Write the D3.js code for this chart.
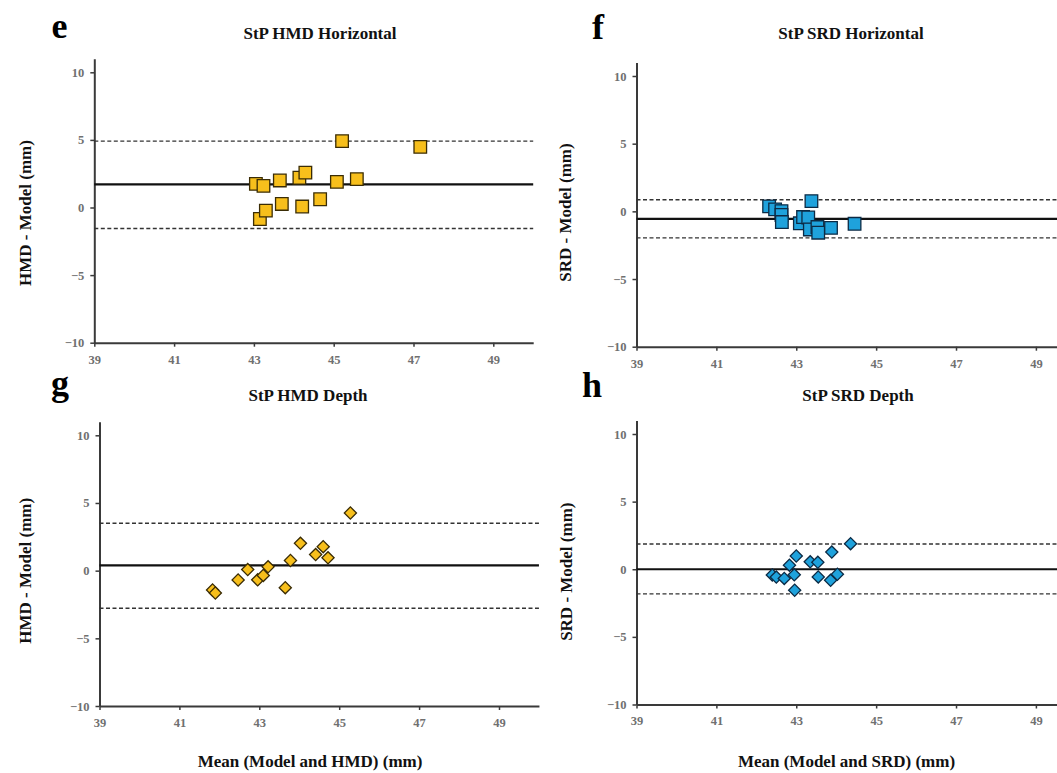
<!DOCTYPE html>
<html><head><meta charset="utf-8">
<script src="https://cdn.jsdelivr.net/npm/d3@7"></script>
<style>
body{margin:0;background:#fff}
svg{display:block}
text{font-family:"Liberation Serif","Times New Roman",serif}
</style>
</head><body>
<svg id="chart" width="1057" height="773"></svg>
<script>
// ---------------- DATA ----------------
const panelLetters = ["e", "f", "g", "h"];
const panelTitles = ["StP HMD Horizontal", "StP SRD Horizontal", "StP HMD Depth", "StP SRD Depth"];
const yAxisLabels = ["HMD - Model (mm)", "SRD - Model (mm)", "HMD - Model (mm)", "SRD - Model (mm)"];
const xAxisLabels = ["", "", "Mean (Model and HMD) (mm)", "Mean (Model and SRD) (mm)"];
const xTickValues = [39, 41, 43, 45, 47, 49];
const yTickValues = [-10, -5, 0, 5, 10];
const xDomain = [39, 50];
const yDomain = [-10, 11];

// e: StP HMD Horizontal
const hmdHorizMean = [43.05, 43.24, 43.15, 43.30, 43.65, 43.70, 44.14, 44.29, 44.21, 44.66, 45.08, 45.21, 45.58, 47.17];
const hmdHorizDiff = [1.75, 1.60, -0.85, -0.23, 2.00, 0.26, 2.20, 2.58, 0.07, 0.61, 1.90, 4.91, 2.10, 4.48];
// f: StP SRD Horizontal
const srdHorizMean = [42.32, 42.47, 42.63, 42.63, 42.64, 43.09, 43.17, 43.30, 43.38, 43.34, 43.53, 43.55, 43.87, 44.46];
const srdHorizDiff = [0.37, 0.15, 0.02, -0.27, -0.79, -0.88, -0.42, -0.45, 0.76, -1.34, -1.16, -1.58, -1.22, -0.92];
// g: StP HMD Depth
const hmdDepthMean = [41.83, 41.90, 42.47, 42.71, 42.96, 43.10, 43.22, 43.65, 43.78, 44.03, 44.41, 44.60, 44.72, 45.28];
const hmdDepthDiff = [-1.43, -1.65, -0.69, 0.08, -0.68, -0.35, 0.28, -1.26, 0.75, 2.02, 1.19, 1.77, 0.95, 4.26];
// h: StP SRD Depth
const srdDepthMean = [42.40, 42.50, 42.70, 42.83, 42.95, 43.00, 42.96, 43.35, 43.54, 43.55, 43.89, 43.86, 44.03, 44.36];
const srdDepthDiff = [-0.42, -0.58, -0.68, 0.30, -0.41, 0.98, -1.55, 0.55, 0.51, -0.57, 1.27, -0.82, -0.37, 1.89];

// Bland-Altman lines (bias and limits of agreement)
const biasValues = [1.71, -0.56, 0.39, 0.00];
const upperLoAValues = [4.91, 0.86, 3.50, 1.87];
const lowerLoAValues = [-1.55, -1.96, -2.78, -1.82];

const seriesX = [hmdHorizMean, srdHorizMean, hmdDepthMean, srdDepthMean];
const seriesY = [hmdHorizDiff, srdHorizDiff, hmdDepthDiff, srdDepthDiff];

// ---------------- STYLE / LAYOUT ----------------
const markerShape = ["square", "square", "diamond", "diamond"];
const markerFill = ["#F7BF1C", "#1FA2DC", "#F7BF1C", "#1FA2DC"];
const markerStroke = ["#3a2c05", "#0c2b45", "#3a2c05", "#0c2b45"];

const layout = [
  {x39: 94.3,  ppu: 39.9,  yM10: 342.7, yP10: 72.3,
   title: [320, 38.6], letter: [51.5, 38], yLab: [25.8, 213], xLab: null},
  {x39: 636.5, ppu: 39.94, yM10: 346.7, yP10: 76.0,
   title: [851, 38.6], letter: [592, 39], yLab: [565.3, 212.5], xLab: null},
  {x39: 99.5,  ppu: 39.95, yM10: 706.0, yP10: 435.3,
   title: [308, 400.6], letter: [51, 394.5], yLab: [25.8, 570.8], xLab: [310, 767]},
  {x39: 636.5, ppu: 39.94, yM10: 704.5, yP10: 434.0,
   title: [858, 400.6], letter: [582, 396.5], yLab: [566.3, 571.7], xLab: [846.5, 767]}
];

const svg = d3.select("#chart");

layout.forEach((L, i) => {
  const x = d3.scaleLinear().domain(xDomain)
    .range([L.x39, L.x39 + (xDomain[1] - xDomain[0]) * L.ppu]);
  const yUnit = (L.yM10 - L.yP10) / 20;
  const y = d3.scaleLinear().domain(yDomain)
    .range([L.yM10, L.yM10 - (yDomain[1] - yDomain[0]) * yUnit]);

  const g = svg.append("g");

  // Axes
  const yAxis = d3.axisLeft(y).tickValues(yTickValues).tickSize(4).tickSizeOuter(0).tickPadding(6);
  const xAxis = d3.axisBottom(x).tickValues(xTickValues).tickSize(4).tickSizeOuter(0).tickPadding(8);

  const ya = g.append("g").attr("transform", `translate(${L.x39},0)`).call(yAxis);
  const xa = g.append("g").attr("transform", `translate(0,${L.yM10})`).call(xAxis);
  [ya, xa].forEach(a => {
    a.attr("color", "#3a3a3a");
    a.select(".domain").attr("stroke-width", 2);
    a.selectAll(".tick line").attr("stroke-width", 1.5);
    a.selectAll(".tick text")
      .attr("fill", "#707070")
      .style("font-size", "12.5px")
      .style("font-weight", "bold")
      .style("font-family", '"Liberation Serif","Times New Roman",serif');
  });

  // Limits of agreement (dashed) and bias (solid)
  const x0 = x(xDomain[0]), x1 = x(xDomain[1]);
  [upperLoAValues[i], lowerLoAValues[i]].forEach(v => {
    g.append("line").attr("x1", x0).attr("x2", x1).attr("y1", y(v)).attr("y2", y(v))
      .attr("stroke", "#333").attr("stroke-width", 1.4).attr("stroke-dasharray", "4,2.5");
  });
  g.append("line").attr("x1", x0).attr("x2", x1).attr("y1", y(biasValues[i])).attr("y2", y(biasValues[i]))
    .attr("stroke", "#111").attr("stroke-width", 2.2);

  // Points
  const pts = seriesX[i].map((m, k) => ({m, d: seriesY[i][k]}));
  const isDiamond = markerShape[i] === "diamond";
  const sym = d3.symbol().type(d3.symbolSquare).size(isDiamond ? 74 : 158);
  g.append("g").selectAll("path").data(pts).join("path")
    .attr("d", sym)
    .attr("transform", p => `translate(${x(p.m)},${y(p.d)})` + (isDiamond ? " rotate(45)" : ""))
    .attr("fill", markerFill[i])
    .attr("stroke", markerStroke[i])
    .attr("stroke-width", 1.3);

  // Title
  g.append("text").attr("x", L.title[0]).attr("y", L.title[1])
    .attr("text-anchor", "middle").style("font-size", "17px").style("font-weight", "bold")
    .attr("fill", "#111").text(panelTitles[i]);

  // Panel letter
  g.append("text").attr("x", L.letter[0]).attr("y", L.letter[1])
    .style("font-size", "36px").style("font-weight", "bold").attr("fill", "#000")
    .text(panelLetters[i]);

  // Y label
  g.append("text")
    .attr("transform", `translate(${L.yLab[0] + 5.5},${L.yLab[1]}) rotate(-90)`)
    .attr("text-anchor", "middle").style("font-size", "17px").style("font-weight", "bold")
    .attr("fill", "#111").text(yAxisLabels[i]);

  // X label
  if (L.xLab && xAxisLabels[i]) {
    g.append("text").attr("x", L.xLab[0]).attr("y", L.xLab[1])
      .attr("text-anchor", "middle").style("font-size", "17px").style("font-weight", "bold")
      .attr("fill", "#111").text(xAxisLabels[i]);
  }
});
</script>
</body></html>
